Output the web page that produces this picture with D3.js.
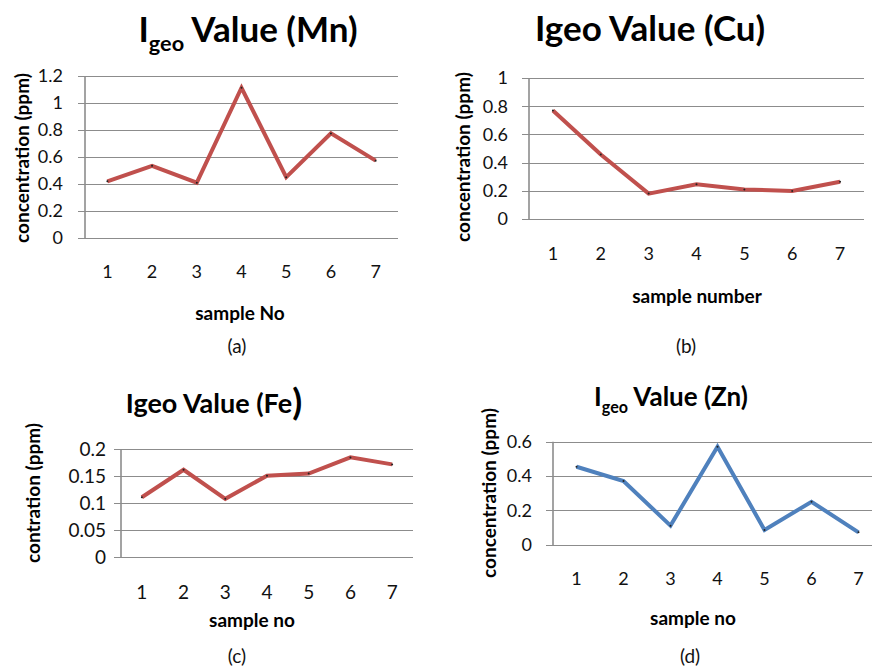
<!DOCTYPE html>
<html>
<head>
<meta charset="utf-8">
<script src="https://cdn.jsdelivr.net/npm/d3@7"></script>
<style>
  body { margin: 0; background: #fff; }
  svg { display: block; font-family: Lato, "Open Sans", sans-serif; }
</style>
</head>
<body>
<div id="chart"></div>
<script>
// data
const samples = [1, 2, 3, 4, 5, 6, 7];
const mnValues = [0.42, 0.535, 0.41, 1.113, 0.45, 0.775, 0.573];
const cuValues = [0.77, 0.457, 0.18, 0.247, 0.21, 0.198, 0.264];
const feValues = [0.111, 0.162, 0.108, 0.151, 0.155, 0.185, 0.172];
const znValues = [0.454, 0.371, 0.111, 0.571, 0.086, 0.25, 0.072];

const mnTicks = [0, 0.2, 0.4, 0.6, 0.8, 1, 1.2];
const cuTicks = [0, 0.2, 0.4, 0.6, 0.8, 1];
const feTicks = [0, 0.05, 0.1, 0.15, 0.2];
const znTicks = [0, 0.2, 0.4, 0.6];

const RED = "#c0504d";
const BLUE = "#4f81bd";
const GRID = "#8c8c8c";

const svg = d3.select("#chart")
  .append("svg")
  .attr("width", 872)
  .attr("height", 669);

// panel layouts (pixel boxes for each small chart)
const panels = [
  {
    values: mnValues, ticks: mnTicks, color: RED,
    x0: 85, x1: 398, yTop: 76, yBot: 238,
    tickEnd: 63, tickSize: 18, catY: 272,
    title: { main: "I", sub: "geo", rest: " Value (Mn)", x: 248, y: 42, size: 35 },
    yLabel: { text: "concentration (ppm)", x: 22, y: 158 },
    xLabel: { text: "sample No", x: 240, y: 313 },
    caption: { text: "(a)", x: 237, y: 346 }
  },
  {
    values: cuValues, ticks: cuTicks, color: RED,
    x0: 529, x1: 864, yTop: 78, yBot: 219,
    tickEnd: 508, tickSize: 18, catY: 254,
    title: { main: "Igeo Value (Cu)", x: 650, y: 41, size: 35 },
    yLabel: { text: "concentration (ppm)", x: 463, y: 157 },
    xLabel: { text: "sample number", x: 697, y: 296 },
    caption: { text: "(b)", x: 686, y: 346 }
  },
  {
    values: feValues, ticks: feTicks, color: RED,
    x0: 121, x1: 413, yTop: 449.3, yBot: 557,
    tickEnd: 106, tickSize: 19, catY: 592,
    title: { main: "Igeo Value (Fe", bigParen: ")", x: 214, y: 413, size: 27 },
    yLabel: { text: "contration (ppm)", x: 33, y: 493 },
    xLabel: { text: "sample no", x: 252, y: 620 },
    caption: { text: "(c)", x: 237, y: 656 }
  },
  {
    values: znValues, ticks: znTicks, color: BLUE,
    x0: 553, x1: 882, yTop: 441.7, yBot: 544.7,
    tickEnd: 532, tickSize: 18, catY: 579,
    title: { main: "I", sub: "geo", rest: " Value (Zn)", x: 671, y: 406, size: 26 },
    yLabel: { text: "concentration (ppm)", x: 489, y: 493 },
    xLabel: { text: "sample no", x: 693, y: 618 },
    caption: { text: "(d)", x: 690, y: 656 }
  }
];

panels.forEach(p => {
  const g = svg.append("g");

  const x = d3.scaleBand().domain(samples).range([p.x0, p.x1]);
  const y = d3.scaleLinear()
    .domain([0, d3.max(p.ticks)])
    .range([p.yBot, p.yTop]);

  // gridlines + left tick stubs
  g.append("g")
    .selectAll("line")
    .data(p.ticks)
    .join("line")
      .attr("x1", p.x0 - 7)
      .attr("x2", p.x1)
      .attr("y1", d => Math.round(y(d)) + 0.5)
      .attr("y2", d => Math.round(y(d)) + 0.5)
      .attr("stroke", GRID)
      .attr("stroke-width", 1.2);

  // y axis line
  g.append("line")
    .attr("x1", p.x0).attr("x2", p.x0)
    .attr("y1", y(d3.max(p.ticks)))
    .attr("y2", p.yBot + 1)
    .attr("stroke", GRID)
    .attr("stroke-width", 1.6);

  // y tick labels
  g.append("g")
    .selectAll("text")
    .data(p.ticks)
    .join("text")
      .attr("x", p.tickEnd)
      .attr("y", d => y(d))
      .attr("dy", "0.35em")
      .attr("text-anchor", "end")
      .attr("font-size", p.tickSize)
      .attr("fill", "#111")
      .text(d => d);

  // x category labels
  g.append("g")
    .selectAll("text")
    .data(samples)
    .join("text")
      .attr("x", d => x(d) + x.bandwidth() / 2)
      .attr("y", p.catY)
      .attr("dy", "0.35em")
      .attr("text-anchor", "middle")
      .attr("font-size", p.tickSize)
      .attr("fill", "#111")
      .text(d => d);

  // line
  const pts = samples.map((s, i) => [x(s) + x.bandwidth() / 2, y(p.values[i])]);
  g.append("path")
    .attr("d", d3.line()(pts))
    .attr("fill", "none")
    .attr("stroke", p.color)
    .attr("stroke-width", 4)
    .attr("stroke-linejoin", "miter");

  // tiny point markers
  g.append("g")
    .selectAll("circle")
    .data(pts)
    .join("circle")
      .attr("cx", d => d[0])
      .attr("cy", d => d[1])
      .attr("r", 1)
      .attr("fill", "#222");

  // title
  const t = g.append("text")
    .attr("x", p.title.x)
    .attr("y", p.title.y)
    .attr("text-anchor", "middle")
    .attr("font-size", p.title.size)
    .attr("font-weight", "bold")
    .attr("fill", "#000");
  t.append("tspan").text(p.title.main);
  if (p.title.sub) {
    t.append("tspan")
      .attr("font-size", p.title.size * 0.62)
      .attr("dy", p.title.size * 0.27)
      .text(p.title.sub);
    t.append("tspan")
      .attr("dy", -p.title.size * 0.27)
      .text(p.title.rest);
  }
  if (p.title.bigParen) {
    t.append("tspan")
      .attr("font-size", p.title.size * 1.35)
      .attr("dy", p.title.size * 0.08)
      .text(p.title.bigParen);
  }

  // axis titles
  g.append("text")
    .attr("transform", `translate(${p.yLabel.x},${p.yLabel.y}) rotate(-90)`)
    .attr("dy", "0.35em")
    .attr("text-anchor", "middle")
    .attr("font-size", 19)
    .attr("font-weight", "bold")
    .attr("fill", "#000")
    .text(p.yLabel.text);

  g.append("text")
    .attr("x", p.xLabel.x)
    .attr("y", p.xLabel.y)
    .attr("dy", "0.35em")
    .attr("text-anchor", "middle")
    .attr("font-size", 19)
    .attr("font-weight", "bold")
    .attr("fill", "#000")
    .text(p.xLabel.text);

  // caption
  g.append("text")
    .attr("x", p.caption.x)
    .attr("y", p.caption.y)
    .attr("dy", "0.35em")
    .attr("text-anchor", "middle")
    .attr("font-size", 19)
    .attr("fill", "#111")
    .text(p.caption.text);
});
</script>
</body>
</html>
